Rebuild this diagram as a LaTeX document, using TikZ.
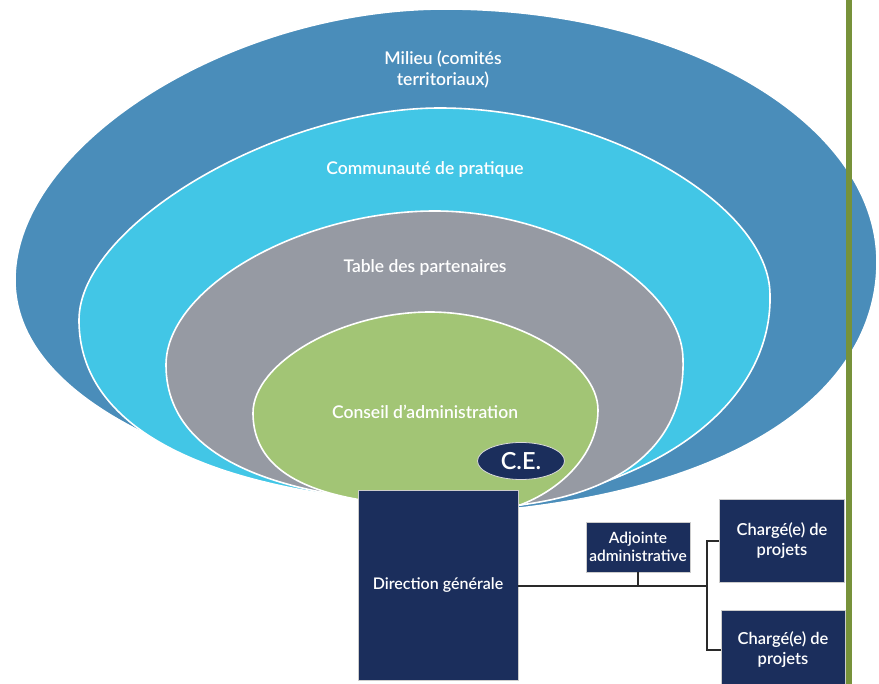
\documentclass[tikz,border=0pt]{standalone}
\usepackage{fontspec}
\setmainfont{Lato}
\newfontfamily\semib{Lato Semibold}
\usetikzlibrary{shapes.geometric}
\definecolor{outerblue}{HTML}{4A8DBA}
\definecolor{lightblue}{HTML}{42C6E6}
\definecolor{midgray}{HTML}{969AA3}
\definecolor{leafgreen}{HTML}{A2C575}
\definecolor{navy}{HTML}{1B2E5C}
\definecolor{olivebar}{HTML}{77923A}
\definecolor{wire}{HTML}{2A2A2A}
\begin{document}
\begin{tikzpicture}[x=1pt,y=-1pt,
  layer/.style={draw=white, line width=1.6pt},
  lbl/.style={text=white, align=center, font=\semib\fontsize{17.5}{21}\selectfont},
  box/.style={fill=navy, draw=black!20, line width=0.8pt, text=white, align=center, inner sep=2pt},
  wirestyle/.style={draw=wire, line width=1.4pt}]
\useasboundingbox (0,0) rectangle (879,684);
\fill[white] (0,0) rectangle (879,684);
% nested teardrop shapes
\path[layer, fill=outerblue] (520,508) .. controls (300,510) and (15,430) .. (15,280)
  .. controls (15,145) and (230,9) .. (445,9)
  .. controls (683,9) and (877,122) .. (877,262)
  .. controls (877,380) and (760,480) .. (520,508) -- cycle;
\path[layer, fill=lightblue] (520,505) .. controls (320,510) and (79,470) .. (79,320)
  .. controls (79,225) and (278,108) .. (440,108)
  .. controls (604,108) and (770,205) .. (770,295)
  .. controls (772,380) and (700,470) .. (520,505) -- cycle;
\path[layer, fill=midgray] (520,505) .. controls (320,510) and (166,475) .. (166,365)
  .. controls (166,288) and (300,211) .. (435,211)
  .. controls (558,211) and (683,285) .. (683,360)
  .. controls (685,430) and (640,490) .. (520,505) -- cycle;
\path[layer, fill=leafgreen] (520,505) .. controls (380,512) and (253,500) .. (253,413)
  .. controls (253,363) and (341,312) .. (430,312)
  .. controls (514,312) and (598,361) .. (598,410)
  .. controls (598,455) and (560,490) .. (520,505) -- cycle;
% labels
\node[lbl] (milieu) at (443,70) {Milieu (comités\\territoriaux)};
\node[lbl] (cop) at (425,170) {Communauté de pratique};
\node[lbl] (table) at (425,268) {Table des partenaires};
\node[lbl] (ca) at (425,412) {Conseil d’administration};
\node[ellipse, fill=navy, draw=black!15, line width=0.8pt, minimum width=87pt, minimum height=37pt, inner sep=0pt, text=white, font=\semib\fontsize{23.5}{25}\selectfont] (ce) at (521,461) {C.E.};
% boxes
\node[box, minimum width=160pt, minimum height=190pt, font=\semib\fontsize{16}{19}\selectfont] (dg) at (438,585) {Direction générale};
\node[box, minimum width=104pt, minimum height=50pt, font=\semib\fontsize{15.5}{18}\selectfont] (adj) at (638,547) {Adjointe\\administrative};
\node[box, minimum width=125pt, minimum height=83pt, font=\semib\fontsize{16.5}{20}\selectfont] (cp1) at (782,541) {Chargé(e) de\\projets};
\node[box, minimum width=124pt, minimum height=80pt, font=\semib\fontsize{16.5}{20}\selectfont] (cp2) at (783,650) {Chargé(e) de\\projets};
% connectors
\coordinate (junction) at (707,586);
\draw[wirestyle] (dg.east |- junction) -- (junction);
\draw[wirestyle] (adj.south) -- (adj.south |- junction);
\draw[wirestyle] (cp1.west) -| (junction);
\draw[wirestyle] (cp2.west) -| (junction);
% olive bar
\fill[olivebar] (846,0) rectangle (852,684);
\end{tikzpicture}
\end{document}
